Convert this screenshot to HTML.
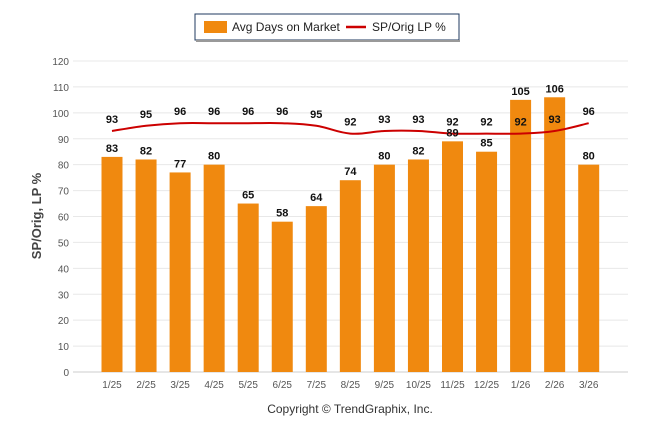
<!DOCTYPE html>
<html><head><meta charset="utf-8"><style>
body{margin:0;background:#fff;font-family:"Liberation Sans",Arial,sans-serif}
svg text{font-family:"Liberation Sans",Arial,sans-serif}
</style></head><body>
<svg id="c" width="646" height="434" xmlns="http://www.w3.org/2000/svg">
<g>
<rect x="195" y="14" width="264" height="26" fill="#fff" stroke="#1f3a5f" stroke-width="1"/>
<line x1="196" y1="41" x2="460" y2="41" stroke="#999" stroke-width="2"/>
<rect x="204" y="21" width="23" height="12" fill="#f0890f"/>
<text x="232" y="31" font-size="12" fill="#222">Avg Days on Market</text>
<line x1="346" y1="27" x2="366" y2="27" stroke="#cc0000" stroke-width="2.5"/>
<text x="372" y="31" font-size="12" fill="#222">SP/Orig LP %</text>
</g>
<text transform="translate(41,216) rotate(-90)" text-anchor="middle" font-size="13" font-weight="bold" fill="#444">SP/Orig, LP %</text>
<text x="350" y="413" text-anchor="middle" font-size="12" fill="#333">Copyright © TrendGraphix, Inc.</text>
<g id="grid"></g><g id="bars"></g><g id="line"></g><g id="labels"></g>
</svg>
<script>
const categories=["1/25","2/25","3/25","4/25","5/25","6/25","7/25","8/25","9/25","10/25","11/25","12/25","1/26","2/26","3/26"];
const daysOnMarket=[83,82,77,80,65,58,64,74,80,82,89,85,105,106,80];
const spOrigLP=[93,95,96,96,96,96,95,92,93,93,92,92,92,93,96];
const yTicks=[0,10,20,30,40,50,60,70,80,90,100,110,120];
const NS="http://www.w3.org/2000/svg";
const y=v=>372-v*(311/120);
const x=i=>112+i*34.05;
function mk(t,a,p){const e=document.createElementNS(NS,t);for(const k in a)e.setAttribute(k,a[k]);p.appendChild(e);return e;}
const grid=document.getElementById('grid'),bars=document.getElementById('bars'),line=document.getElementById('line'),labels=document.getElementById('labels');
yTicks.forEach(t=>{
 const l=mk('line',{x1:73,x2:628,y1:y(t),y2:y(t),stroke:t===0?'#ccc':'#e8e8e8','stroke-width':1},grid);
 
 
 const tx=mk('text',{x:69,y:y(t)+4,'text-anchor':'end','font-size':10,fill:'#555'},grid);
 tx.textContent=t;
 
 
});
categories.forEach((c,i)=>{
 const tx=mk('text',{x:x(i),y:388,'text-anchor':'middle','font-size':10,fill:'#555'},grid);
 tx.textContent=c;
 
 
 const v=daysOnMarket[i];
 const r=mk('rect',{x:x(i)-10.5,y:y(v),width:21,height:y(0)-y(v),fill:'#f0890f'},bars);
 
 
 const bl=mk('text',{x:x(i),y:y(v)-5,'text-anchor':'middle','font-size':11,'font-weight':'bold',fill:'#111'},labels);
 bl.textContent=v;
 
 
 const s=spOrigLP[i];
 const ll=mk('text',{x:x(i),y:y(s)-8,'text-anchor':'middle','font-size':11,'font-weight':'bold',fill:'#111'},labels);
 ll.textContent=s;
 
 
});
const pts=spOrigLP.map((v,i)=>[x(i),y(v)]);
let d='M'+pts[0][0]+','+pts[0][1];
for(let i=0;i<pts.length-1;i++){
 const p0=pts[Math.max(0,i-1)],p1=pts[i],p2=pts[i+1],p3=pts[Math.min(pts.length-1,i+2)];
 const t=0.2;
 d+=` C${p1[0]+(p2[0]-p0[0])*t},${p1[1]+(p2[1]-p0[1])*t} ${p2[0]-(p3[0]-p1[0])*t},${p2[1]-(p3[1]-p1[1])*t} ${p2[0]},${p2[1]}`;
}
const pl=mk('path',{d:d,fill:'none',stroke:'#cc0000','stroke-width':2},line);


</script>
</body></html>
